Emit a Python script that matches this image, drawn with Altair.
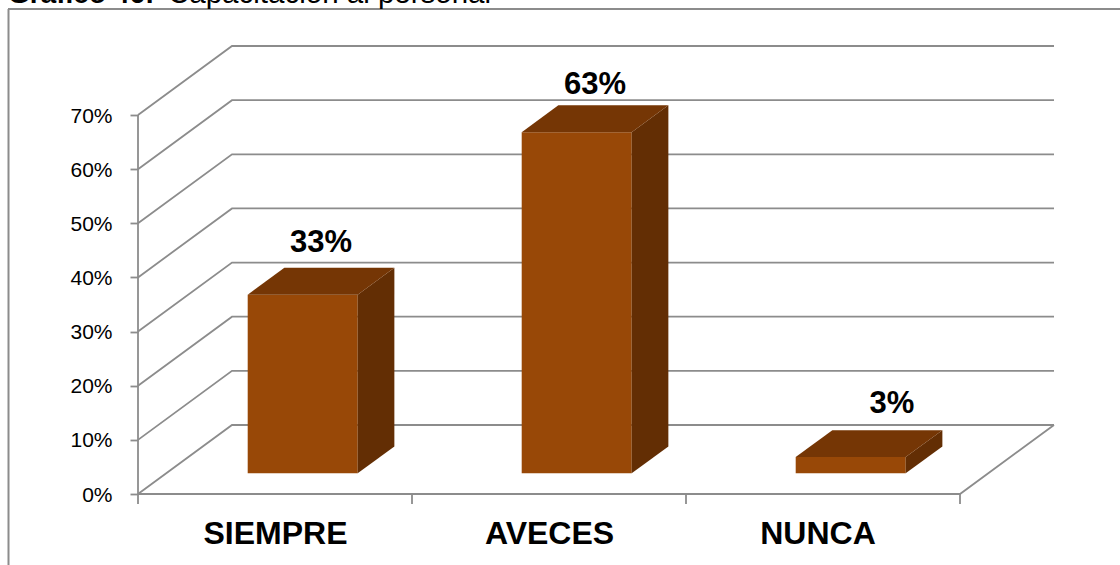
import altair as alt
import pandas as pd

# Survey results, percent of respondents
categories = ["SIEMPRE", "AVECES", "NUNCA"]
values = [33, 63, 3]
value_labels = ["33%", "63%", "3%"]
y_ticks = [0, 10, 20, 30, 40, 50, 60, 70]
x_ticks = [0, 1, 2, 3]

# Oblique projection of the 3D box: one unit of depth shifts by this much
DEPTH_X = 94 / 274       # category units
DEPTH_Y = 69 / 5.414     # percent units
# Column placement inside each category slot
BAR_START = 81.5 / 274   # left offset from the slot start
BAR_WIDTH = 110 / 274
DEPTH_NEAR = 0.30
DEPTH_FAR = 0.69

FRONT = "#984807"
TOP = "#753605"
SIDE = "#632E04"
GRID = "#8c8c8c"
TEXT = "#000000"

W, H = 916, 448
X_MAX = W / 274
Y_MAX = H / 5.414
LEFT, UP = 138, 46

# Hand placement of the value labels relative to their boxes
LABEL_NUDGE_X = [0, 0, 23 / 274]
LABEL_NUDGE_Y = [1 / 5.414, -4 / 5.414, 2 / 5.414]

x_scale = alt.Scale(domain=[0, X_MAX], nice=False, zero=False)
y_scale = alt.Scale(domain=[0, Y_MAX], nice=False, zero=False)


def project(cat_x, pct, depth):
    return cat_x + depth * DEPTH_X, pct + depth * DEPTH_Y


# Back wall lines, left wall diagonals and the floor outline
wall_rows = []
for v in y_ticks:
    x0, y0 = project(0, v, 0)
    x1, y1 = project(0, v, 1)
    x2, y2 = project(x_ticks[-1], v, 1)
    wall_rows += [
        {"g": f"w{v}", "o": 0, "x": x0, "y": y0},
        {"g": f"w{v}", "o": 1, "x": x1, "y": y1},
        {"g": f"w{v}", "o": 2, "x": x2, "y": y2},
    ]
# Floor front edge, floor right edge and the vertical value axis
fx, fy = project(x_ticks[-1], 0, 1)
wall_rows += [
    {"g": "floor", "o": 0, "x": 0, "y": 0},
    {"g": "floor", "o": 1, "x": x_ticks[-1], "y": 0},
    {"g": "floor", "o": 2, "x": fx, "y": fy},
    {"g": "axis", "o": 0, "x": 0, "y": 0},
    {"g": "axis", "o": 1, "x": 0, "y": y_ticks[-1]},
]
walls = alt.Chart(pd.DataFrame(wall_rows)).mark_line(
    color=GRID, strokeWidth=1.8, clip=False
).encode(
    x=alt.X("x:Q", scale=x_scale,
            axis=alt.Axis(values=[0.5, 1.5, 2.48], title=None, grid=False, domain=False,
                          ticks=False, labelFontSize=32, labelFontWeight="bold",
                          labelColor=TEXT, labelFont="Liberation Sans", labelPadding=24,
                          labelExpr="['SIEMPRE','AVECES','NUNCA'][floor(datum.value)]",
                          labelOverlap=False)),
    y=alt.Y("y:Q", scale=y_scale,
            axis=alt.Axis(values=y_ticks, title=None, grid=False, domain=False,
                          tickSize=8, tickColor=GRID, tickWidth=1.8, labelFontSize=21,
                          labelColor=TEXT, labelFont="Liberation Sans", labelPadding=18,
                          labelOffset=1,
                          labelExpr="datum.value + '%'", labelOverlap=False)),
    detail="g:N",
    order="o:Q",
)

# Category separators hanging below the floor
cat_ticks = alt.Chart(pd.DataFrame({"x": x_ticks})).mark_rule(
    color=GRID, strokeWidth=1.8
).encode(
    x=alt.X("x:Q", scale=x_scale),
    y=alt.value(H),
    y2=alt.value(H + 10),
)

# Box faces: a rectangle in front, sheared slices for the side and the lid
front_rows, side_rows, top_rows = [], [], []
for i, v in enumerate(values):
    left = i + BAR_START
    right = left + BAR_WIDTH
    x_a, base_a = project(left, 0, DEPTH_NEAR)
    x_b, base_b = project(right, 0, DEPTH_NEAR)
    x_c, base_c = project(right, 0, DEPTH_FAR)
    x_d, _ = project(left, 0, DEPTH_FAR)
    top_a, top_c = base_a + v, base_c + v
    front_rows.append({"x": x_a, "x2": x_b, "lo": base_a, "hi": top_a})
    side_rows += [
        {"g": i, "x": x_b, "lo": base_b, "hi": top_a},
        {"g": i, "x": x_c, "lo": base_c, "hi": top_c},
    ]
    top_rows += [
        {"g": i, "x": x_a, "lo": top_a, "hi": top_a},
        {"g": i, "x": x_d, "lo": top_a, "hi": top_c},
        {"g": i, "x": x_b, "lo": top_a, "hi": top_c},
        {"g": i, "x": x_c, "lo": top_c, "hi": top_c},
    ]

front = alt.Chart(pd.DataFrame(front_rows)).mark_rect(color=FRONT).encode(
    x=alt.X("x:Q", scale=x_scale),
    x2="x2:Q",
    y=alt.Y("lo:Q", scale=y_scale),
    y2="hi:Q",
)


def sheared(rows, fill):
    return alt.Chart(pd.DataFrame(rows)).mark_area(color=fill, orient="vertical").encode(
        x=alt.X("x:Q", scale=x_scale),
        y=alt.Y("lo:Q", scale=y_scale),
        y2="hi:Q",
        detail="g:N",
    )


side = sheared(side_rows, SIDE)
lid = sheared(top_rows, TOP)

# Value labels float above the far edge of each box
label_rows = []
for i, (v, lab) in enumerate(zip(values, value_labels)):
    cx, py = project(i + BAR_START + BAR_WIDTH / 2, v, (DEPTH_NEAR + DEPTH_FAR) / 2)
    label_rows.append({"x": cx + LABEL_NUDGE_X[i],
                       "y": py + (DEPTH_FAR - DEPTH_NEAR) / 2 * DEPTH_Y + LABEL_NUDGE_Y[i],
                       "t": lab})
value_text = alt.Chart(pd.DataFrame(label_rows)).mark_text(
    fontSize=31, fontWeight="bold", color=TEXT, font="Liberation Sans",
    baseline="middle", dy=-24
).encode(
    x=alt.X("x:Q", scale=x_scale),
    y=alt.Y("y:Q", scale=y_scale),
    text="t:N",
)

# Panel border: runs along the top and left, open on the other sides
frame = alt.Chart(pd.DataFrame({"a": [0]})).mark_rule(color=GRID, strokeWidth=2).encode(
    x=alt.value(8 - LEFT), x2=alt.value(1120 - LEFT), y=alt.value(9 - UP)
)
frame_left = alt.Chart(pd.DataFrame({"a": [0]})).mark_rule(color=GRID, strokeWidth=2).encode(
    x=alt.value(8.5 - LEFT), y=alt.value(9 - UP), y2=alt.value(565 - UP)
)

# Caption above the panel, bold lead-in followed by the regular text
caption_bold = alt.Chart(pd.DataFrame({"t": ["Gráfico 46:"]})).mark_text(
    fontSize=28, fontWeight="bold", color=TEXT, font="Liberation Sans",
    align="left", baseline="alphabetic"
).encode(x=alt.value(8 - LEFT), y=alt.value(3 - UP), text="t:N")
caption_rest = alt.Chart(pd.DataFrame({"t": ["Capacitación al personal"]})).mark_text(
    fontSize=29.5, color=TEXT, font="Liberation Sans",
    align="left", baseline="alphabetic"
).encode(x=alt.value(168 - LEFT), y=alt.value(3 - UP), text="t:N")

chart = alt.layer(
    walls, cat_ticks, front, side, lid, value_text, frame, frame_left, caption_bold, caption_rest
).properties(
    width=W,
    height=H,
    padding={"left": LEFT, "top": UP, "right": 66, "bottom": 71},
    autosize=alt.AutoSizeParams(type="none"),
    background="#ffffff",
).configure_view(stroke=None)

chart.save("out.html", embed_options={"renderer": "svg", "actions": False})
